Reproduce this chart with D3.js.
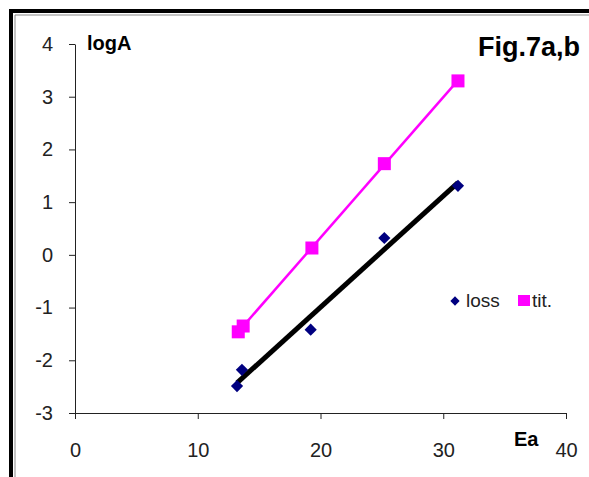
<!DOCTYPE html>
<html>
<head>
<meta charset="utf-8">
<script src="https://cdn.jsdelivr.net/npm/d3@7"></script>
<style>
  html, body { margin: 0; padding: 0; background: #fff; }
  svg { display: block; font-family: "Liberation Sans", Arial, sans-serif; }
</style>
</head>
<body>
<svg id="chart" width="589" height="477"></svg>
<script>
// Activation energy Ea vs logA for the two series
const lossEa   = [13.2, 13.6, 19.2, 25.2, 31.2];
const lossLogA = [-2.49, -2.18, -1.42, 0.32, 1.31];
const titEa    = [13.3, 13.7, 19.3, 25.2, 31.2];
const titLogA  = [-1.46, -1.35, 0.13, 1.73, 3.30];
const xTicks = [0, 10, 20, 30, 40];
const yTicks = [-3, -2, -1, 0, 1, 2, 3, 4];
const seriesNames = ["loss", "tit."];

const svg = d3.select("#chart");
const x = d3.scaleLinear().domain([0, 40]).range([75, 566]);
const y = d3.scaleLinear().domain([-3, 4]).range([413, 44]);

// outer frame: heavy black rule with a thin grey inner rule
svg.append("path").attr("d", "M11,477 V11 H589")
  .attr("fill", "none").attr("stroke", "#000").attr("stroke-width", 4);
svg.append("path").attr("d", "M15,477 V15 H589")
  .attr("fill", "none").attr("stroke", "#888").attr("stroke-width", 1);

// axes (plain hyphen for negatives)
const fmt = d => String(d);
const yAxis = svg.append("g").attr("transform", `translate(${x(0)},0)`)
  .call(d3.axisLeft(y).tickValues(yTicks).tickSize(6).tickPadding(16).tickSizeOuter(0)
        .tickFormat(fmt));
const xAxis = svg.append("g").attr("transform", `translate(0,${y(-3)})`)
  .call(d3.axisBottom(x).tickValues(xTicks).tickSize(6).tickSizeOuter(0)
        .tickFormat(fmt));
[yAxis, xAxis].forEach(g => {
  g.select(".domain").attr("stroke", "#222");
  g.selectAll(".tick line").attr("stroke", "#222");
  g.selectAll(".tick text").attr("fill", "#222")
    .style("font-family", "'Liberation Sans', Arial, sans-serif").style("font-size", "20px");
});
xAxis.selectAll(".tick text").attr("y", 44).attr("dy", 0);

// axis titles and figure label
svg.append("text").attr("x", 87).attr("y", 50).text("logA")
  .style("font-size", "20px").style("font-weight", "bold");
svg.append("text").attr("x", 514).attr("y", 446).text("Ea")
  .style("font-size", "20px").style("font-weight", "bold");
svg.append("text").attr("x", 478).attr("y", 56).text("Fig.7a,b")
  .style("font-size", "27px").style("font-weight", "bold");

// least-squares trend line over a series
function fit(xs, ys) {
  const mx = d3.mean(xs), my = d3.mean(ys);
  const sxy = d3.sum(xs, (v, i) => (v - mx) * (ys[i] - my));
  const sxx = d3.sum(xs, v => (v - mx) * (v - mx));
  const b = sxy / sxx, a = my - b * mx;
  const x0 = d3.min(xs), x1 = d3.max(xs);
  return [[x0, a + b * x0], [x1, a + b * x1]];
}
const line = d3.line().x(d => x(d[0])).y(d => y(d[1]));

svg.append("path").datum(fit(titEa, titLogA)).attr("d", line)
  .attr("fill", "none").attr("stroke", "#ff00ff").attr("stroke-width", 2.5);
svg.append("path").datum(fit(lossEa, lossLogA)).attr("d", line)
  .attr("fill", "none").attr("stroke", "#000").attr("stroke-width", 5);

// markers
const diamond = d3.symbol().type(d3.symbolDiamond2).size(95);
svg.append("g").selectAll("path").data(lossEa.map((v, i) => [v, lossLogA[i]]))
  .join("path").attr("d", diamond)
  .attr("transform", d => `translate(${x(d[0])},${y(d[1])})`)
  .attr("fill", "#000080");
const sq = 13;
svg.append("g").selectAll("rect").data(titEa.map((v, i) => [v, titLogA[i]]))
  .join("rect")
  .attr("x", d => x(d[0]) - sq / 2).attr("y", d => y(d[1]) - sq / 2)
  .attr("width", sq).attr("height", sq).attr("fill", "#ff00ff");

// legend
const leg = svg.append("g");
leg.append("path").attr("d", d3.symbol().type(d3.symbolDiamond2).size(55))
  .attr("transform", "translate(455,301)").attr("fill", "#000080");
leg.append("text").attr("x", 466).attr("y", 307).text(seriesNames[0])
  .style("font-size", "19px").attr("fill", "#222");
leg.append("rect").attr("x", 518).attr("y", 295).attr("width", 12).attr("height", 11)
  .attr("fill", "#ff00ff");
leg.append("text").attr("x", 532).attr("y", 307).text(seriesNames[1])
  .style("font-size", "19px").attr("fill", "#222");
</script>
</body>
</html>
